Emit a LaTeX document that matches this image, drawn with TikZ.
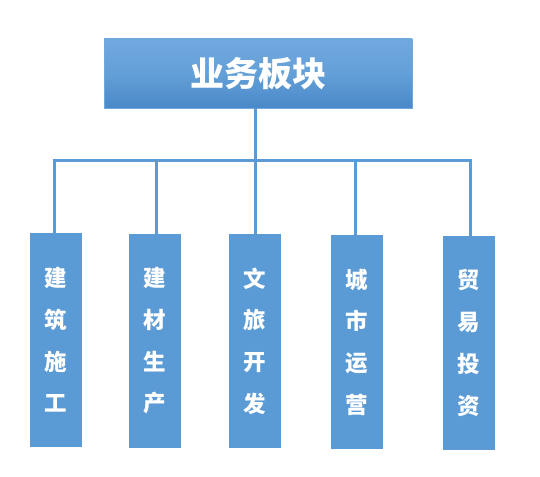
\documentclass[tikz,border=0pt]{standalone}
\usepackage{fontspec}
\newfontfamily\cjk{Noto Sans CJK SC}
\definecolor{boxblue}{HTML}{5B9BD5}
\definecolor{topA}{HTML}{71A8DF}
\definecolor{topB}{HTML}{4A88C9}
\definecolor{edge}{HTML}{6FA8DC}
\begin{document}
\begin{tikzpicture}[x=1pt,y=-1pt,
  titlebox/.style={draw=edge,line width=0.8pt,top color=topA,bottom color=topB,middle color=boxblue!95!white,
    minimum width=308pt,minimum height=69pt,inner sep=0pt,text=white,
    font=\cjk\bfseries\fontsize{34}{38}\selectfont},
  unit/.style={fill=boxblue,minimum width=52pt,minimum height=214pt,inner sep=0pt,text=white,align=center,
    font=\cjk\bfseries\fontsize{22.5}{41.7}\selectfont},
  link/.style={draw=boxblue,line width=3pt}]
\useasboundingbox (0,0) rectangle (540,476);
\node[titlebox] (top) at (258,73.5) {业务板块};
\node[unit] (a) at (56,340) {建\\筑\\施\\工};
\node[unit] (b) at (155,341) {建\\材\\生\\产};
\node[unit] (c) at (255,341) {文\\旅\\开\\发};
\node[unit] (d) at (357,342) {城\\市\\运\\营};
\node[unit] (e) at (469,343) {贸\\易\\投\\资};
\coordinate (bl) at (52.5,160.5);
\coordinate (br) at (471.5,160.5);
\draw[link] (bl) -- (br);
\draw[link] (top.south -| c.north) -- (c.north);
\draw[link] (54.5,160.5) coordinate (ja) -- (ja |- a.north);
\draw[link] (156.3,160.5) coordinate (jb) -- (jb |- b.north);
\draw[link] (355.3,160.5) coordinate (jd) -- (jd |- d.north);
\draw[link] (470,160.5) coordinate (je) -- (je |- e.north);
\end{tikzpicture}
\end{document}
